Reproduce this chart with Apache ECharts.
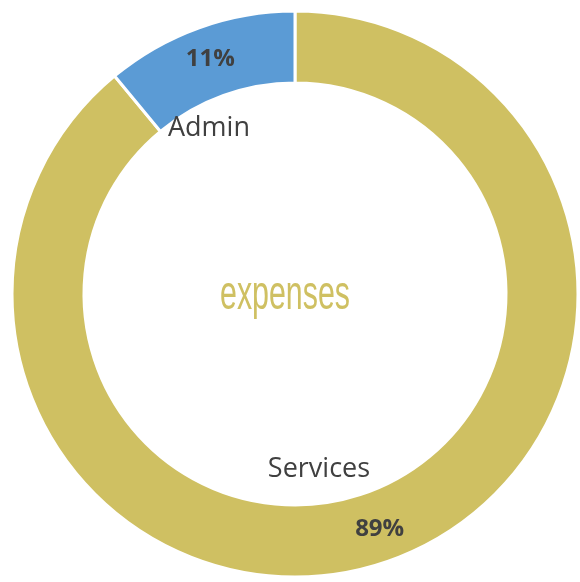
<!DOCTYPE html>
<html><head><meta charset="utf-8">
<script src="https://cdn.jsdelivr.net/npm/echarts@6/dist/echarts.min.js"></script>
<style>html,body{margin:0;padding:0;background:#fff}#c{width:580px;height:582px}</style>
</head><body><div id="c"></div>
<script>
const categories = ['Services', 'Admin'];
const values = [89, 11];
const centerTitle = 'expenses';
const colors = ['#CFC062', '#5B9BD5'];

const chart = echarts.init(document.getElementById('c'));
const nameOffsets = {Services: [-38, 3], Admin: [-24, 6]};
chart.setOption({
  animation: false,
  graphic: [{
    type: 'text', x: 285, y: 296, scaleX: 0.66, scaleY: 1.05,
    style: {text: centerTitle, fill: '#CFC062', font: '46px "Liberation Sans"', textAlign: 'center', textVerticalAlign: 'middle'}
  }],
  series: [{
    type: 'pie', center: [295, 294], radius: [211, 283], startAngle: 90, clockwise: true,
    silent: true,
    itemStyle: {borderColor: '#fff', borderWidth: 3},
    label: {show: true, position: 'inside', formatter: '{d}%', color: '#404040', fontSize: 24, fontWeight: 'bold', fontFamily: 'Open Sans'},
    labelLine: {show: false},
    data: categories.map((c, i) => ({name: c, value: values[i], itemStyle: {color: colors[i]}}))
  }, {
    type: 'pie', center: [295, 294], radius: [170, 190], startAngle: 90, clockwise: true,
    silent: true,
    itemStyle: {color: 'rgba(0,0,0,0)'},
    label: {show: true, position: 'inside', formatter: '{b}', color: '#404040', fontSize: 27, fontFamily: 'Open Sans'},
    labelLayout: function (p) { const o = nameOffsets[p.text] || [0, 0]; return {dx: o[0], dy: o[1]}; },
    labelLine: {show: false},
    data: categories.map((c, i) => ({name: c, value: values[i]}))
  }]
});
</script></body></html>
